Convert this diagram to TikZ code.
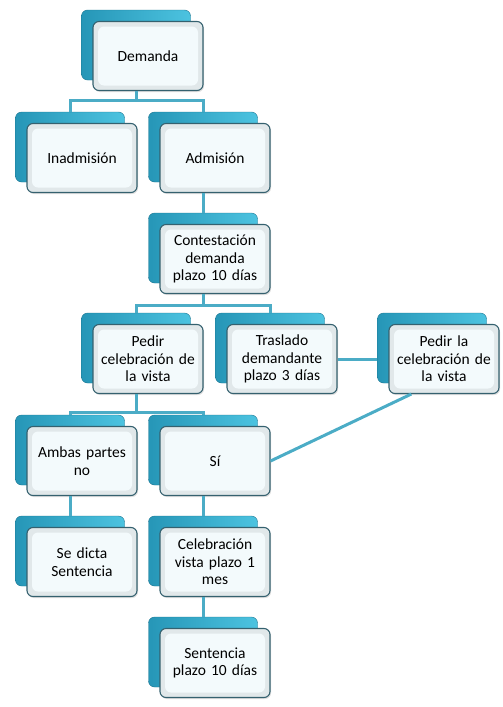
\documentclass[tikz,border=0pt]{standalone}
\usepackage{fontspec}
\setmainfont{Carlito}
\usetikzlibrary{shadows}

\definecolor{linkblue}{HTML}{4BACC6}
\definecolor{backdark}{HTML}{2696B7}
\definecolor{backmid}{HTML}{38AFD0}
\definecolor{backlight}{HTML}{4CC3E0}
\definecolor{backedge}{HTML}{1B7490}
\definecolor{faceedge}{HTML}{35616F}
\definecolor{facebevel}{HTML}{E1E8EA}
\definecolor{faceinner}{HTML}{F3FAFC}

\begin{document}
\begin{tikzpicture}[x=1pt,y=-1pt,font=\fontsize{15.5}{17.5}\selectfont,
  back/.style={rounded corners=6pt,draw=backedge,left color=backdark,middle color=backmid,
    right color=backlight,minimum width=109pt,minimum height=70pt},
  card/.style={rounded corners=6pt,draw=faceedge,line width=1.1pt,fill=facebevel,
    minimum width=110pt,minimum height=69pt,text width=104pt,align=center,inner sep=0pt,
    drop shadow={opacity=0.25,shadow xshift=1pt,shadow yshift=-1.5pt},
    path picture={\fill[faceinner] ([shift={(5pt,-5pt)}]path picture bounding box.north west)
      rectangle ([shift={(-5pt,5pt)}]path picture bounding box.south east);}},
  link/.style={draw=linkblue,line width=3pt}]
  \useasboundingbox (0,0) rectangle (503,707);
  % cards: back plate + front face
  \foreach \n/\x/\y/\t in {dem/81/10/Demanda,inad/15/112/Inadmisión,adm/148/112/Admisión,
      cont/148/213/{Contestación\\demanda\\plazo 10 días},
      ped/81/313/{Pedir\\celebración de\\la vista},tras/215/313/{Traslado\\demandante\\plazo 3 días},
      pla/377/313/{Pedir la\\celebración de\\la vista},
      amb/15/415/{Ambas partes\\no},si/148/415/Sí,
      dicta/15/516/{Se dicta\\Sentencia},cel/148/516/{Celebración\\vista plazo 1\\mes},
      sent/148/617/{Sentencia\\plazo 10 días}} {
    \node[back] (\n-b) at ({\x+55},{\y+35}) {};
    \node[card] (\n) at ({\x+67},{\y+46}) {\t};
  }
  % links
  \coordinate (bus1) at (0,100);
  \foreach \c in {inad,adm}
    \draw[link] (dem-b |- dem.south) -- (dem-b |- bus1) -| (\c-b.north);
  \draw[link] (adm-b |- adm.south) -- (cont-b.north);
  \coordinate (bus2) at (0,305);
  \foreach \c in {ped,tras}
    \draw[link] (cont-b |- cont.south) -- (cont-b |- bus2) -| (\c-b.north);
  \draw[link] (tras.east) -- (tras.east -| pla-b.west);
  \coordinate (bus3) at (0,412);
  \foreach \c in {amb,si}
    \draw[link] (ped-b |- ped.south) -- (ped-b |- bus3) -| (\c-b.north);
  \draw[link] (si.east) -- (pla.-133);
  \draw[link] (amb-b |- amb.south) -- (dicta-b.north);
  \draw[link] (si-b |- si.south) -- (cel-b.north);
  \draw[link] (cel-b |- cel.south) -- (sent-b.north);
\end{tikzpicture}
\end{document}
